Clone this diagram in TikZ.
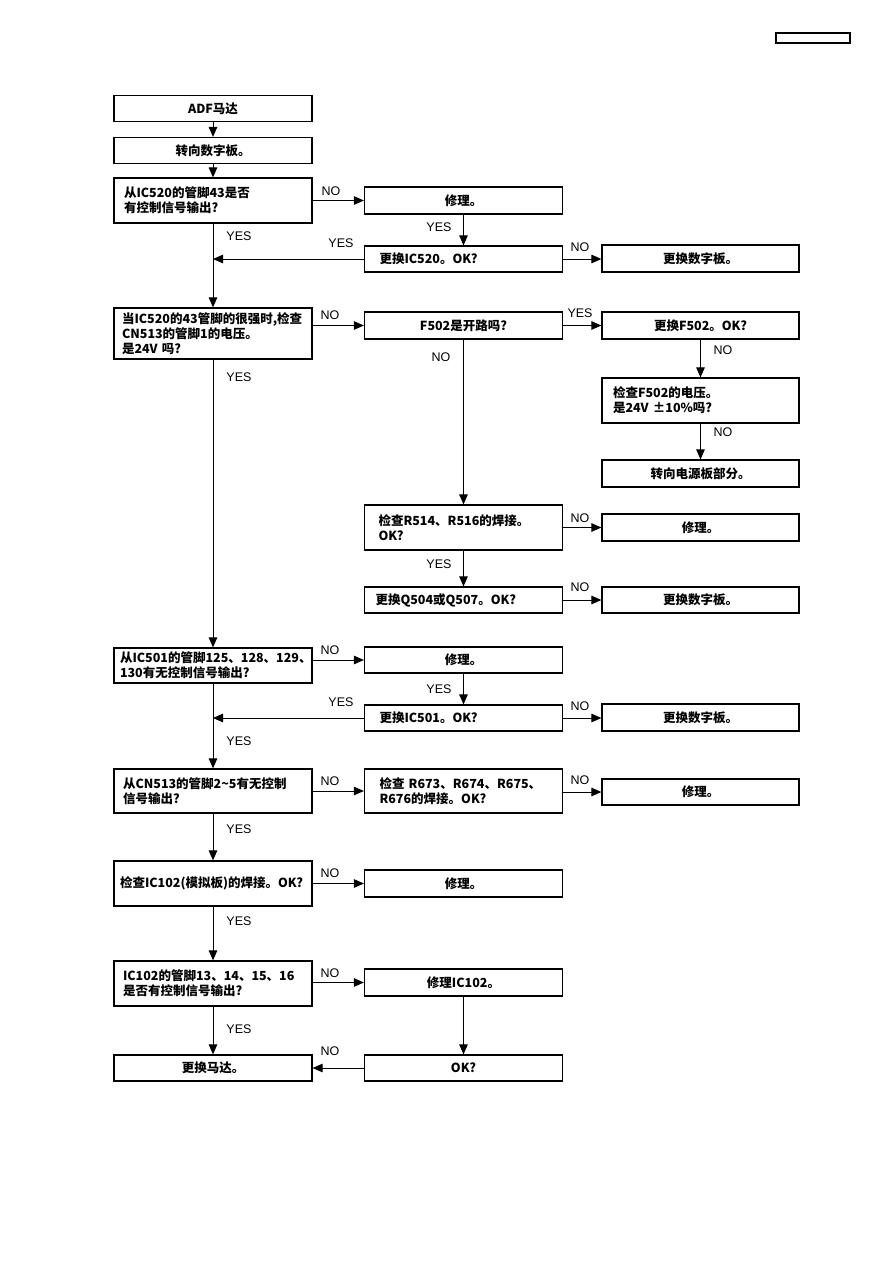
\documentclass[tikz,border=0pt]{standalone}
\usepackage{fontspec}
\setmainfont{Liberation Sans}
\newfontfamily\cjk{Noto Sans CJK SC}
\usetikzlibrary{arrows.meta}
\tikzset{
  box/.style={draw, line width=1.2pt, minimum width=198pt, inner xsep=0pt, inner ysep=0pt,
    font=\cjk\bfseries\fontsize{12.5}{15}\selectfont},
  cbox/.style={box, text width=190pt, align=center},
  lbox/.style={box, align=left},
  arr/.style={line width=1pt, -{Triangle[length=10pt,width=8.5pt]}},
  lab/.style={font=\fontsize{12.5}{14}\selectfont, inner sep=0pt},
}
\begin{document}
\begin{tikzpicture}[x=1pt,y=-1pt]
\useasboundingbox (0,0) rectangle (893,1263);
\node[draw, line width=1.2pt, minimum width=74pt, minimum height=10pt, inner sep=0pt] (hdr) at (813,38) {};

% left column
\node[cbox, minimum height=26pt] (adf) at (213,108.5) {ADF马达};
\node[cbox, minimum height=26pt] (zx) at (213,150.5) {转向数字板。};
\node[lbox, text width=178pt, minimum height=45pt] (q1) at (213,200.5) {从IC520的管脚43是否\\有控制信号输出?};
\node[lbox, text width=182pt, minimum height=51pt] (q2) at (213,333.5) {当IC520的43管脚的很强时,检查\\CN513的管脚1的电压。\\是24V 吗?};
\node[lbox, text width=186pt, minimum height=35pt] (q3) at (213,665.5) {从IC501的管脚125、128、129、\\130有无控制信号输出?};
\node[lbox, text width=180pt, minimum height=44pt] (q4) at (213,791) {从CN513的管脚2\textasciitilde5有无控制\\信号输出?};
\node[lbox, text width=186pt, minimum height=45pt] (q5) at (213,883.5) {检查IC102(模拟板)的焊接。OK?};
\node[lbox, text width=180pt, minimum height=45pt] (q6) at (213,983.5) {IC102的管脚13、14、15、16\\是否有控制信号输出?};
\node[cbox, minimum height=26pt] (motor) at (213,1068) {更换马达。};

% middle column
\node[cbox, minimum height=27pt] (fix1) at (463.5,200.5) {修理。};
\node[lbox, text width=168pt, minimum height=26pt] (rep1) at (463.5,259) {更换IC520。OK?};
\node[cbox, minimum height=27pt] (f502) at (463.5,325.5) {F502是开路吗?};
\node[lbox, text width=170pt, minimum height=45pt] (r514) at (463.5,527.5) {检查R514、R516的焊接。\\OK?};
\node[lbox, text width=176pt, minimum height=26pt] (q504) at (463.5,600) {更换Q504或Q507。OK?};
\node[cbox, minimum height=26pt] (fix3) at (463.5,660) {修理。};
\node[lbox, text width=168pt, minimum height=26pt] (rep2) at (463.5,718) {更换IC501。OK?};
\node[lbox, text width=168pt, minimum height=44pt] (r673) at (463.5,791) {检查 R673、R674、R675、\\R676的焊接。OK?};
\node[cbox, minimum height=27pt] (fix5) at (463.5,883.5) {修理。};
\node[cbox, minimum height=27pt] (fix6) at (463.5,982.5) {修理IC102。};
\node[cbox, minimum height=26pt] (ok) at (463.5,1068) {OK?};

% right column
\node[cbox, minimum width=197pt, minimum height=27pt] (dig1) at (700.5,258.5) {更换数字板。};
\node[cbox, minimum width=197pt, minimum height=27pt] (rf502) at (700.5,325.5) {更换F502。OK?};
\node[lbox, minimum width=197pt, text width=175pt, minimum height=45pt] (cf502) at (700.5,400.5) {检查F502的电压。\\是24V ±10\%吗?};
\node[cbox, minimum width=197pt, minimum height=27pt] (pwr) at (700.5,473.5) {转向电源板部分。};
\node[cbox, minimum width=197pt, minimum height=27pt] (fix2) at (700.5,527.5) {修理。};
\node[cbox, minimum width=197pt, minimum height=26pt] (dig2) at (700.5,600) {更换数字板。};
\node[cbox, minimum width=197pt, minimum height=27pt] (dig3) at (700.5,717.5) {更换数字板。};
\node[cbox, minimum width=197pt, minimum height=26pt] (fix4) at (700.5,792) {修理。};

% connectors
\draw[arr] (adf) -- (zx);
\draw[arr] (zx) -- (q1);
\draw[arr] (q1) -- (fix1);
\draw[arr] (fix1) -- (rep1);
\draw[arr] (rep1.west) -- (rep1.west -| q1.south);
\draw[arr] (rep1) -- (rep1.east -| dig1.west);
\draw[arr] (q1) -- (q2);
\draw[arr] (q2.east |- f502.west) -- (f502.west);
\draw[arr] (f502) -- (rf502);
\draw[arr] (rf502) -- (cf502);
\draw[arr] (cf502) -- (pwr);
\draw[arr] (f502) -- (r514);
\draw[arr] (r514) -- (fix2);
\draw[arr] (r514) -- (q504);
\draw[arr] (q504) -- (dig2);
\draw[arr] (q2) -- (q3);
\draw[arr] (q3.east |- fix3.west) -- (fix3.west);
\draw[arr] (fix3) -- (rep2);
\draw[arr] (rep2.west) -- (rep2.west -| q3.south);
\draw[arr] (rep2) -- (rep2.east -| dig3.west);
\draw[arr] (q3) -- (q4);
\draw[arr] (q4) -- (r673);
\draw[arr] (r673.east |- fix4.west) -- (fix4.west);
\draw[arr] (q4) -- (q5);
\draw[arr] (q5) -- (fix5);
\draw[arr] (q5) -- (q6);
\draw[arr] (q6.east |- fix6.west) -- (fix6.west);
\draw[arr] (q6) -- (motor);
\draw[arr] (fix6) -- (ok);
\draw[arr] (ok) -- (motor);

% labels
\node[lab] (l1) at (331,191) {NO};
\node[lab] (l2) at (239,236) {YES};
\node[lab] (l3) at (439,227) {YES};
\node[lab] (l4) at (341,243) {YES};
\node[lab] (l5) at (580,247) {NO};
\node[lab] (l6) at (330,315) {NO};
\node[lab] (l7) at (580,313) {YES};
\node[lab] (l8) at (723,350) {NO};
\node[lab] (l9) at (723,432) {NO};
\node[lab] (l10) at (441,357) {NO};
\node[lab] (l11) at (239,377) {YES};
\node[lab] (l12) at (580,518) {NO};
\node[lab] (l13) at (439,564) {YES};
\node[lab] (l14) at (580,587) {NO};
\node[lab] (l15) at (330,650) {NO};
\node[lab] (l16) at (439,689) {YES};
\node[lab] (l17) at (341,702) {YES};
\node[lab] (l18) at (580,706) {NO};
\node[lab] (l19) at (239,741) {YES};
\node[lab] (l20) at (330,781) {NO};
\node[lab] (l21) at (580,780) {NO};
\node[lab] (l22) at (239,829) {YES};
\node[lab] (l23) at (330,873) {NO};
\node[lab] (l24) at (239,921) {YES};
\node[lab] (l25) at (330,973) {NO};
\node[lab] (l26) at (239,1029) {YES};
\node[lab] (l27) at (330,1051) {NO};
\end{tikzpicture}
\end{document}
